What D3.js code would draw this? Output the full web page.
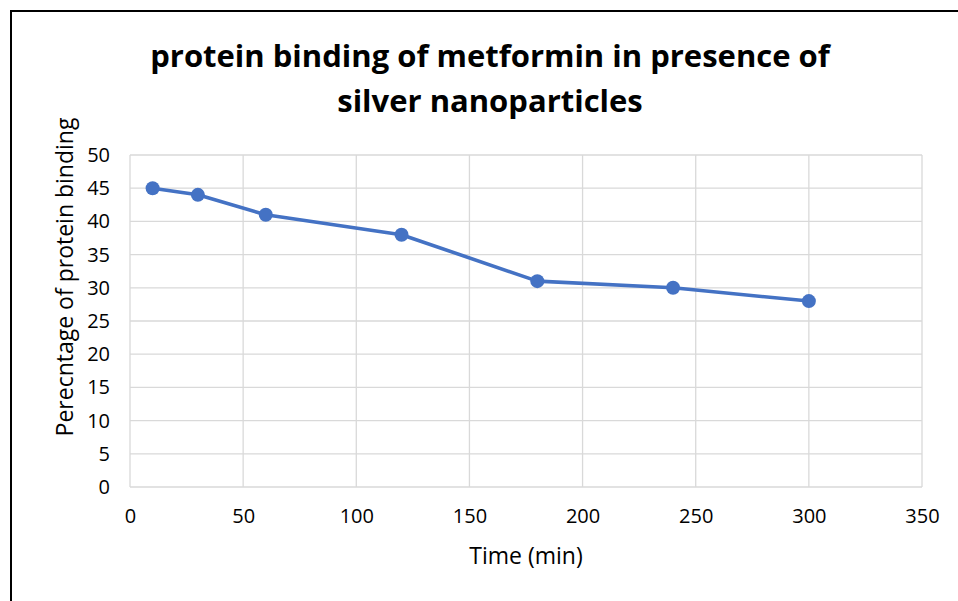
<!DOCTYPE html>
<html>
<head>
<meta charset="utf-8">
<script src="https://cdn.jsdelivr.net/npm/d3@7"></script>
<style>
  body { margin: 0; background: #fff; }
  text { font-family: "Open Sans", Lato, sans-serif; fill: #000; }
</style>
</head>
<body>
<svg></svg>
<script>
const timeMin = [10, 30, 60, 120, 180, 240, 300];
const binding = [45, 44, 41, 38, 31, 30, 28];
const xTicks = [0, 50, 100, 150, 200, 250, 300, 350];
const yTicks = [0, 5, 10, 15, 20, 25, 30, 35, 40, 45, 50];
const titleLines = ['protein binding of metformin in presence of', 'silver nanoparticles'];

const size = {w: 958, h: 601};
const plot = {l: 130, r: 922, t: 155, b: 487};
const svg = d3.select('svg')
    .attr('width', size.w)
    .attr('height', size.h);

// outer chart frame (cropped on right and bottom)
svg.append('rect')
    .attr('x', 11).attr('y', 11)
    .attr('width', 1000).attr('height', 700)
    .attr('fill', 'none')
    .attr('stroke', '#000')
    .attr('stroke-width', 2);

let x = d3.scaleLinear().domain([0, 350]).range([plot.l, plot.r]);
let y = d3.scaleLinear().domain([0, 50]).range([plot.b, plot.t]);

// gridlines
let grid = svg.append('g').attr('class', 'grid');
grid.selectAll('line.h')
    .data(yTicks)
    .enter()
    .append('line')
    .attr('x1', plot.l).attr('x2', plot.r)
    .attr('y1', d => y(d)).attr('y2', d => y(d))
    .attr('stroke', '#d9d9d9').attr('stroke-width', 1.3);
grid.selectAll('line.v')
    .data(xTicks)
    .enter()
    .append('line')
    .attr('y1', plot.t).attr('y2', plot.b)
    .attr('x1', d => x(d)).attr('x2', d => x(d))
    .attr('stroke', '#d9d9d9').attr('stroke-width', 1.3);

// tick labels
let xAxis = d3.axisBottom(x).tickValues(xTicks).tickSize(0).tickPadding(22);
svg.append('g')
    .attr('transform', `translate(0,${plot.b})`)
    .call(xAxis)
    .call(g => g.select('.domain').remove())
    .selectAll('text').style('font-size', '20px');

let yAxis = d3.axisLeft(y).tickValues(yTicks).tickSize(0).tickPadding(20);
svg.append('g')
    .attr('transform', `translate(${plot.l},0)`)
    .call(yAxis)
    .call(g => g.select('.domain').remove())
    .selectAll('text').style('font-size', '20px');

// title
svg.append('g').selectAll('text')
    .data(titleLines)
    .enter()
    .append('text')
    .attr('x', 490)
    .attr('y', (d, i) => 67 + i * 45)
    .attr('text-anchor', 'middle')
    .style('font-size', '31px')
    .style('font-weight', 'bold')
    .text(d => d);

svg.append('text')
    .attr('x', (plot.l + plot.r) / 2)
    .attr('y', 564)
    .attr('text-anchor', 'middle')
    .style('font-size', '23px')
    .text('Time (min)');

svg.append('text')
    .attr('transform', 'translate(73,277) rotate(-90)')
    .attr('text-anchor', 'middle')
    .style('font-size', '23px')
    .text('Perecntage of protein binding');

// series
let pts = timeMin.map((t, i) => ({t: t, v: binding[i]}));
let line = d3.line().x(d => x(d.t)).y(d => y(d.v));
svg.append('path')
    .datum(pts)
    .attr('d', line)
    .attr('fill', 'none')
    .attr('stroke', '#4472c4')
    .attr('stroke-width', 3.6)
    .attr('stroke-linejoin', 'round');

svg.selectAll('circle')
    .data(pts)
    .enter()
    .append('circle')
    .attr('cx', d => x(d.t))
    .attr('cy', d => y(d.v))
    .attr('r', 7)
    .attr('fill', '#4472c4');
</script>
</body>
</html>
